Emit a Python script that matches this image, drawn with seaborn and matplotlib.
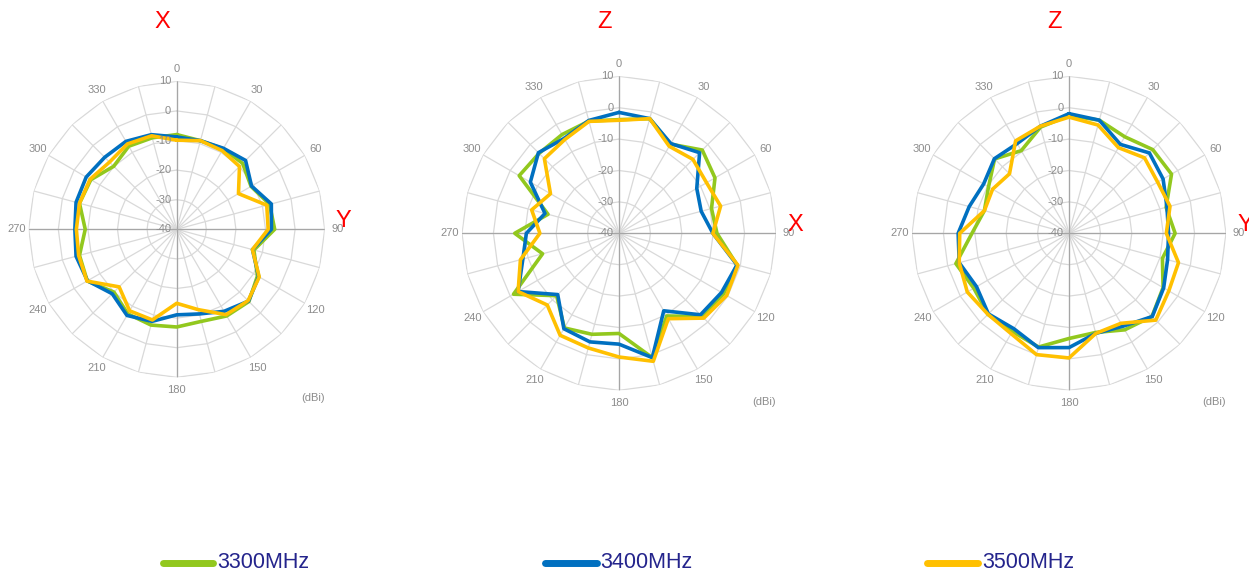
import numpy as np
import pandas as pd
import matplotlib
matplotlib.use("Agg")
import matplotlib.pyplot as plt
from matplotlib.lines import Line2D
from matplotlib import font_manager
import seaborn as sns

# ---------------- data ----------------
angles = list(range(0, 360, 15))
freqs = ["3300MHz", "3400MHz", "3500MHz"]
colors = ["#92c81e", "#0070c0", "#ffc000"]
r_ticks = [10, 0, -10, -20, -30, -40]
theta_labels = [str(a) if a % 30 == 0 else "" for a in angles]

titles = ["X", "Z", "Z"]
side_labels = ["Y", "X", "Y"]

# plot 1 (XY plane)
g1 = [-8, -9, -8.6, -8.5, -11, -7.5, -6.9, -13, -8.5, -5.5, -6.2, -7.8,
      -7, -6.5, -7, -10, -5.1, -6, -9.1, -6, -6.5, -9.9, -7.6, -8]
b1 = [-8.8, -9, -8.4, -7.1, -10.8, -6.9, -8, -13.5, -8, -5.7, -8, -10.4,
      -11.1, -7.8, -6.4, -9.2, -5.2, -4.8, -5.6, -4.8, -4.7, -5.6, -5.7, -6.9]
y1 = [-9.9, -9, -9.3, -10, -15.9, -8.5, -9.1, -13.5, -7.8, -5.9, -6.7, -11.9,
      -15, -8.3, -8.2, -12.5, -5, -5.7, -6.1, -6, -6.2, -7.9, -6.7, -7.3]
# plot 2 (ZX plane)
g2 = [-3.8, -2.2, -7.2, -2.5, -4.7, -9.5, -8.8, -1.1, -1.5, -2.5, -9.6, 1.0,
      -8.1, -6.7, -5.2, -11.9, -1.2, -14.8, -6.8, -16.6, -3.3, -4.0, -3.7, -3.0]
b2 = [-1.5, -2.2, -7, -3.7, -11.4, -12.9, -10.1, -1.1, -2.3, -3.3, -11.5, 1.0,
      -4.7, -4.2, -4.9, -12.4, -2.9, -8.3, -10.5, -15.6, -7.4, -3.7, -5.1, -2.8]
y2 = [-4, -2.2, -8, -6.7, -7.8, -6.5, -10.1, -0.8, -0.4, -1.8, -8.6, 2.2,
      -0.6, -2.2, -2.5, -7.7, -2.9, -7.5, -14.8, -11.2, -14.8, -6.4, -5.5, -3.1]
# plot 3 (ZY plane)
g3 = [-2.5, -2.7, -4.5, -2.3, -2.3, -8, -6.2, -9.2, -5.4, -2.6, -4.5, -7.3,
      -6.5, -2.5, -3.9, -3.5, -5, -2.7, -9.1, -12.1, -10.4, -6.5, -9.6, -5]
b3 = [-1.9, -2.7, -7.3, -3.8, -5.4, -7.7, -8.3, -7.5, -5.2, -2.5, -5.8, -7,
      -3.6, -2.3, -4.9, -3.7, -6, -3.8, -4.7, -7.1, -8.6, -6.4, -7, -4.7]
y3 = [-3, -4.3, -8.5, -6, -7.4, -6.7, -9, -3.9, -3.3, -0.9, -6.9, -7,
      -0.3, 0, -3.1, -3.5, -2.6, -3.8, -5.2, -12.1, -11.9, -13.2, -6, -4.7]

panels = [(g1, b1, y1), (g2, b2, y2), (g3, b3, y3)]

# ---------------- layout (pixels) ----------------
W, H = 1249, 578
centers = [(176.7, 229.3, 148), (619, 233.3, 157), (1069, 233.3, 157)]

sns.set_theme(style="white")
avail = {f.name for f in font_manager.fontManager.ttflist}
base_font = "Liberation Sans" if "Liberation Sans" in avail else "DejaVu Sans"
legend_font = "Liberation Sans Narrow" if "Liberation Sans Narrow" in avail else base_font
legend_size = 17 if legend_font != base_font else 15.5
plt.rcParams["font.family"] = [base_font]

fig = plt.figure(figsize=(W / 100, H / 100), dpi=100)
fig.patch.set_facecolor("white")

grid_c = "#d9d9d9"
axis_c = "#a6a6a6"
label_c = "#8c8c8c"

theta_closed = np.deg2rad(angles + [360])

for i, (vals, (cx, cy, R)) in enumerate(zip(panels, centers)):
    ax = fig.add_axes([(cx - R) / W, (H - cy - R) / H, 2 * R / W, 2 * R / H],
                      projection="polar")
    ax.set_theta_zero_location("N")
    ax.set_theta_direction(-1)
    ax.set_facecolor("none")
    ax.spines["polar"].set_visible(False)

    rows = []
    for f, v in zip(freqs, vals):
        vv = list(v) + [v[0]]
        for t, r in zip(theta_closed, vv):
            rows.append({"theta": t, "dBi": r, "freq": f})
    df = pd.DataFrame(rows)

    # polygon rings
    for r in r_ticks[:-1]:
        ax.plot(theta_closed, [r] * len(theta_closed), color=grid_c, lw=0.9, zorder=1)
    # main axes spokes
    for a in [0, 90, 180, 270]:
        ax.plot([np.deg2rad(a)] * 2, [-40, 10], color=axis_c, lw=0.9, zorder=1.5)

    sns.lineplot(data=df, x="theta", y="dBi", hue="freq", hue_order=freqs,
                 palette=colors, sort=False, estimator=None, legend=False,
                 linewidth=2.6, ax=ax, zorder=3)

    ax.set_ylim(-40, 10)
    ax.set_yticks([])
    ax.yaxis.grid(False)
    ax.set_thetagrids(angles, theta_labels)
    ax.xaxis.grid(True, color=grid_c, lw=0.9)
    ax.tick_params(axis="x", pad=-4, labelsize=8, labelcolor=label_c)
    ax.set_xlabel("")
    ax.set_ylabel("")

    for r in r_ticks:
        ax.annotate(str(r), xy=(0, r), xytext=(-4, 0), textcoords="offset points",
                    ha="right", va="center", fontsize=8, color=label_c, zorder=5)

    # texts
    fig.text((cx - 14) / W, 1 - 22 / H, titles[i], color="red", fontsize=17,
             ha="center", va="center")
    fig.text((cx + R + 19) / W, 1 - (cy - 8) / H, side_labels[i], color="red",
             fontsize=17, ha="center", va="center")
    fig.text((cx + R - 12) / W, 1 - (cy + 169) / H, "(dBi)", color=label_c,
             fontsize=8, ha="center", va="center")

# legend
leg_items = [(163, 213, 217), (545, 597, 600), (927, 978, 982)]
for (x0, x1, xt), f, c in zip(leg_items, freqs, colors):
    fig.add_artist(Line2D([x0 / W, x1 / W], [1 - 563 / H] * 2, color=c, lw=5,
                          solid_capstyle="round", transform=fig.transFigure))
    fig.text(xt / W, 1 - 562 / H, f, color="#24248c", fontsize=legend_size,
             family=legend_font, ha="left", va="center")

fig.savefig("out.png", dpi=100, facecolor="white")
